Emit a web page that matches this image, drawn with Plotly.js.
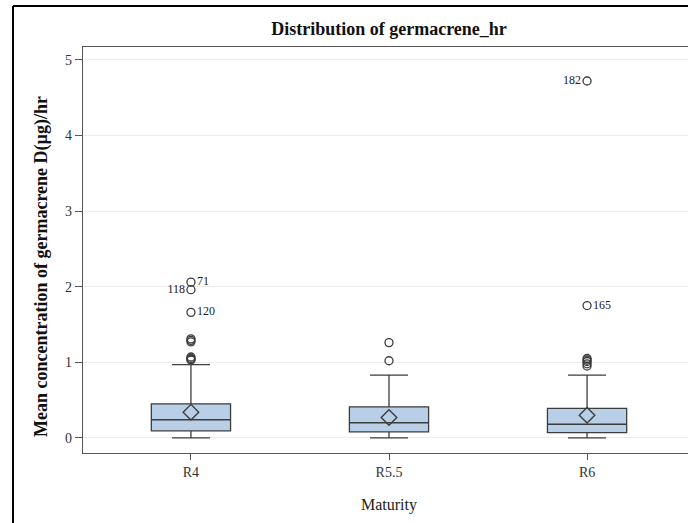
<!DOCTYPE html>
<html>
<head>
<meta charset="utf-8">
<script src="https://cdn.plot.ly/plotly-3.0.1.min.js"></script>
<style>
html,body{margin:0;padding:0;overflow:hidden;background:#fff;width:688px;height:523px;}
#chart{width:696px;height:523px;}
</style>
</head>
<body>
<div id="chart"></div>
<script>
// Data
const categories = ['R4', 'R5.5', 'R6'];
const q1Values = [0.093, 0.08, 0.07];
const medianValues = [0.24, 0.20, 0.18];
const q3Values = [0.45, 0.41, 0.39];
const lowerWhisker = [0, 0, 0];
const upperWhisker = [0.97, 0.83, 0.83];
const meanValues = [0.34, 0.27, 0.30];

const outlierCategory = ['R4','R4','R4','R4','R4','R4','R4','R4','R4','R4',
                         'R5.5','R5.5',
                         'R6','R6','R6','R6','R6','R6','R6'];
const outlierValues = [2.06, 1.96, 1.66, 1.31, 1.29, 1.27, 1.07, 1.05, 1.04, 1.03,
                       1.26, 1.02,
                       4.72, 1.75, 1.05, 1.03, 1.01, 0.98, 0.95];
const outlierLabels = ['71','118','120','','','','','','','',
                       '','',
                       '182','165','','','','',''];
const outlierLabelSide = ['right','left','right','right','right','right','right','right','right','right',
                          'right','right',
                          'left','right','right','right','right','right','right'];

const serif = 'Liberation Serif, Times New Roman, serif';
const W = 696, H = 523;
const M = {l: 83, r: 1, t: 47, b: 70};
const pw = W - M.l - M.r, ph = H - M.t - M.b;

const boxTrace = {
  type: 'box',
  x: categories,
  q1: q1Values,
  median: medianValues,
  q3: q3Values,
  lowerfence: lowerWhisker,
  upperfence: upperWhisker,
  width: 0.4,
  whiskerwidth: 0.48,
  fillcolor: '#b9cfe8',
  line: {color: '#3d3d3d', width: 1.3},
  hoverinfo: 'skip',
  showlegend: false
};

const meanTrace = {
  type: 'scatter',
  mode: 'markers',
  x: categories,
  y: meanValues,
  marker: {symbol: 'diamond-open', size: 12, color: '#3d3d3d', line: {width: 1.4, color: '#3d3d3d'}},
  hoverinfo: 'skip',
  showlegend: false
};

const outlierTrace = {
  type: 'scatter',
  mode: 'markers+text',
  x: outlierCategory,
  y: outlierValues,
  text: outlierLabels,
  textposition: outlierLabelSide.map(s => s === 'left' ? 'middle left' : 'middle right'),
  textfont: {family: serif, size: 12, color: '#222'},
  marker: {symbol: 'circle-open', size: 8, color: '#3d3d3d', line: {width: 1.3, color: '#3d3d3d'}},
  hoverinfo: 'skip',
  showlegend: false
};

const layout = {
  width: W, height: H,
  margin: M,
  paper_bgcolor: '#fff',
  plot_bgcolor: '#fff',
  font: {family: serif, color: '#333'},
  title: {text: '<b>Distribution of germacrene_hr</b>', font: {family: serif, size: 18, color: '#111'},
          x: (M.l + pw / 2) / W, xref: 'container', y: 1 - 29 / H, yanchor: 'middle'},
  xaxis: {
    type: 'category',
    range: [-0.545, 2.545],
    showline: true, linecolor: '#555', linewidth: 1.3, mirror: true,
    ticks: 'outside', ticklen: 6, tickcolor: '#555', tickwidth: 1,
    showgrid: false, zeroline: false,
    tickfont: {family: serif, size: 14, color: '#333'},
    title: {text: 'Maturity', font: {family: serif, size: 16, color: '#222'}, standoff: 19}
  },
  yaxis: {
    range: [-0.2, 5.17],
    tickvals: [0, 1, 2, 3, 4, 5],
    showline: true, linecolor: '#555', linewidth: 1.3, mirror: true,
    ticks: 'outside', ticklen: 7, tickcolor: '#555', tickwidth: 1,
    showgrid: true, gridcolor: '#ececec', gridwidth: 1,
    zeroline: false,
    tickfont: {family: serif, size: 14, color: '#333'}
  },
  annotations: [
    {text: '<b>Mean concentration of germacrene D(µg)/hr</b>', textangle: -90,
     xref: 'paper', yref: 'paper', x: (41 - M.l) / pw, y: (H - M.b - 267) / ph,
     xanchor: 'center', yanchor: 'middle', showarrow: false,
     font: {family: serif, size: 18, color: '#111'}}
  ],
  shapes: [
    {type: 'line', xref: 'paper', yref: 'paper',
     x0: (13 - M.l) / pw, x1: (13 - M.l) / pw, y0: -M.b / ph - 0.01, y1: 1 + (M.t - 6) / ph,
     line: {color: '#000', width: 2}},
    {type: 'line', xref: 'paper', yref: 'paper',
     x0: (13 - M.l) / pw, x1: 1 + 20 / pw, y0: 1 + (M.t - 6) / ph, y1: 1 + (M.t - 6) / ph,
     line: {color: '#000', width: 2}}
  ]
};

Plotly.newPlot('chart', [boxTrace, meanTrace, outlierTrace], layout, {displayModeBar: false, staticPlot: true});
</script>
</body>
</html>
